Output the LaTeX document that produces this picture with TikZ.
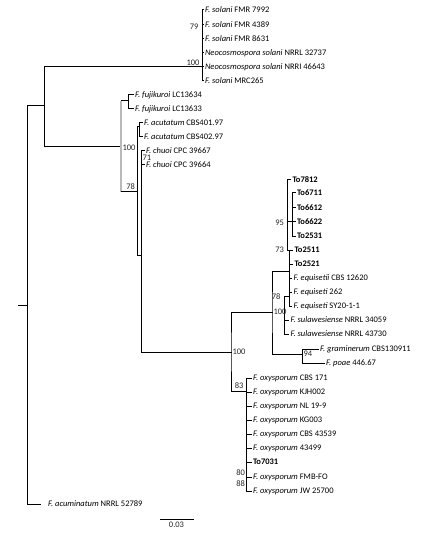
\documentclass[tikz,border=0pt]{standalone}
\usepackage{fontspec}
\setmainfont{Carlito}
\begin{document}
\begin{tikzpicture}[x=1pt,y=-1pt,line cap=rect,line width=1pt,
  font=\fontsize{8.5}{9}\selectfont,
  tip/.style={anchor=west,inner sep=1.5pt},
  totip/.style={tip,font=\fontsize{8.5}{9}\selectfont\bfseries},
  bs/.style={inner sep=1pt,text=black!85},
  grayline/.style={gray!55,line width=1.8pt,line cap=butt}]
\useasboundingbox (0,0) rectangle (447,534);
% internal nodes
\coordinate (rt0) at (18,305);
\coordinate (rt) at (27,305);
\coordinate (a) at (44,106);
\coordinate (sn) at (202,67);
\coordinate (g100) at (121,147);
\coordinate (gtop) at (121,101);
\coordinate (gbot) at (121,192);
\coordinate (fj) at (128,101);
\coordinate (n78) at (137,192);
\coordinate (ac) at (137,127);
\coordinate (ac2) at (139,127);
\coordinate (n137) at (137,255);
\coordinate (cb) at (141,352);
\coordinate (c71) at (141,158);
\coordinate (m) at (231,352);
\coordinate (e) at (272,312);
\coordinate (ox) at (246.5,391);
\coordinate (eq) at (289,271);
\coordinate (gp) at (302,354);
\coordinate (sw) at (284,296);
\coordinate (u) at (287,250);
\coordinate (v) at (292,222);
\coordinate (o80) at (246.5,473);
\coordinate (o88) at (246.5,484);
% tips
\node[tip] (sol1) at (203,10) {\textit{F. solani} FMR 7992};
\node[tip] (sol2) at (203,25) {\textit{F. solani} FMR 4389};
\node[tip] (sol3) at (203,39) {\textit{F. solani} FMR 8631};
\node[tip] (sol4) at (203,53) {\textit{Neocosmospora solani} NRRL 32737};
\node[tip] (sol5) at (203,67) {\textit{Neocosmospora solani} NRRI 46643};
\node[tip] (sol6) at (203,81) {\textit{F. solani} MRC265};
\node[tip] (fuj1) at (133,95) {\textit{F. fujikuroi} LC13634};
\node[tip] (fuj2) at (133,109) {\textit{F. fujikuroi} LC13633};
\node[tip] (acut1) at (142,123) {\textit{F. acutatum} CBS401.97};
\node[tip] (acut2) at (142,137) {\textit{F. acutatum} CBS402.97};
\node[tip] (chu1) at (144,151) {\textit{F. chuoi} CPC 39667};
\node[tip] (chu2) at (144,165) {\textit{F. chuoi} CPC 39664};
\node[totip] (to7812) at (290.5,180) {To7812};
\node[totip] (to6711) at (295,193) {To6711};
\node[totip] (to6612) at (295,208) {To6612};
\node[totip] (to6622) at (295,222) {To6622};
\node[totip] (to2531) at (295,236) {To2531};
\node[totip] (to2511) at (292.5,250) {To2511};
\node[totip] (to2521) at (292.5,264) {To2521};
\node[tip] (eqs1) at (291.5,278) {\textit{F. equisetii} CBS 12620};
\node[tip] (eqs2) at (291.5,292) {\textit{F. equiseti} 262};
\node[tip] (eqs3) at (291.5,306) {\textit{F. equiseti} SY20-1-1};
\node[tip] (sul1) at (288.5,320) {\textit{F. sulawesiense} NRRL 34059};
\node[tip] (sul2) at (288.5,334) {\textit{F. sulawesiense} NRRL 43730};
\node[tip] (gram) at (318,349) {\textit{F. graminerum} CBS130911};
\node[tip] (poae) at (324,363) {\textit{F. poae} 446.67};
\node[tip] (oxy1) at (251,378) {\textit{F. oxysporum} CBS 171};
\node[tip] (oxy2) at (251,392) {\textit{F. oxysporum} KJH002};
\node[tip] (oxy3) at (251,406) {\textit{F. oxysporum} NL 19-9};
\node[tip] (oxy4) at (251,420) {\textit{F. oxysporum} KG003};
\node[tip] (oxy5) at (251,434) {\textit{F. oxysporum} CBS 43539};
\node[tip] (oxy6) at (251,448) {\textit{F. oxysporum} 43499};
\node[totip] (to7031) at (251,462) {To7031};
\node[tip] (oxy7) at (251,477) {\textit{F. oxysporum} FMB-FO};
\node[tip] (oxy8) at (251,491) {\textit{F. oxysporum} JW 25700};
\node[tip] (acum) at (46,504) {\textit{F. acuminatum} NRRL 52789};
% branches
\draw (rt0) -- (rt);
\draw (rt) |- (a);
\draw (rt) |- ([xshift=-6pt]acum.west);
\draw (a) |- (sn);
\draw (a) |- (g100);
\foreach \t in {sol1,sol2,sol3,sol4,sol5,sol6} \draw (sn) |- (\t.west);
\draw[grayline] (gtop) -- (gbot);
\draw (gtop) -- (fj);
\draw (fj) |- (fuj1.west);
\draw (fj) |- (fuj2.west);
\draw (gbot) -- (n78);
\draw (ac) -- (n137);
\draw (ac) -- (ac2);
\draw (ac2) |- (acut1.west);
\draw (ac2) |- (acut2.west);
\draw (n137) -- (n137 -| cb);
\draw (cb) |- (chu1.west);
\draw (cb) |- (chu2.west);
\draw (cb) -- (m);
\draw (e) -| (m) |- (ox);
\draw (eq) -| (e) |- (gp);
\draw (gp) |- (gram.west);
\draw (gp) |- (poae.west);
\foreach \t in {to2511,to2521,eqs1,eqs2,eqs3} \draw (eq) |- (\t.west);
\draw (sw) -- (sw -| eq);
\draw (sw) |- (sul1.west);
\draw (sw) |- (sul2.west);
\draw (u) |- (to7812.west);
\draw (u) -- (u -| eq);
\draw (v -| u) -- (v);
\foreach \t in {to6711,to6612,to6622,to2531} \draw (v) |- (\t.west);
\foreach \t in {oxy1,oxy2,oxy3,oxy4,oxy5,oxy6,to7031,oxy7,oxy8} \draw (ox) |- (\t.west);
% bootstrap values
\node[bs,anchor=south east] (b1) at (201,67) {100};
\node[bs,anchor=east] (b2) at (200,26.5) {79};
\node[bs,anchor=west] (b3) at (121,148) {100};
\node[bs,anchor=south east] (b4) at (136.5,191) {78};
\node[bs,anchor=west] (b5) at (c71) {71};
\node[bs,anchor=west] (b6) at (m) {100};
\node[bs,anchor=west] (b7) at (e) {100};
\node[bs,anchor=east] (b8) at (282,297) {78};
\node[bs,anchor=east] (b9) at (285.5,223) {95};
\node[bs,anchor=east] (b10) at (285.5,250) {73};
\node[bs,anchor=west] (b11) at (gp) {94};
\node[bs,anchor=south east] (b12) at (245,390.5) {83};
\node[bs,anchor=east] (b13) at (o80) {80};
\node[bs,anchor=east] (b14) at (o88) {88};
% scale bar
\coordinate (sb1) at (160,519);
\coordinate (sb2) at (193,519);
\draw (sb1) -- node[bs,below=1pt] (sbl) {0.03} (sb2);
\end{tikzpicture}
\end{document}
